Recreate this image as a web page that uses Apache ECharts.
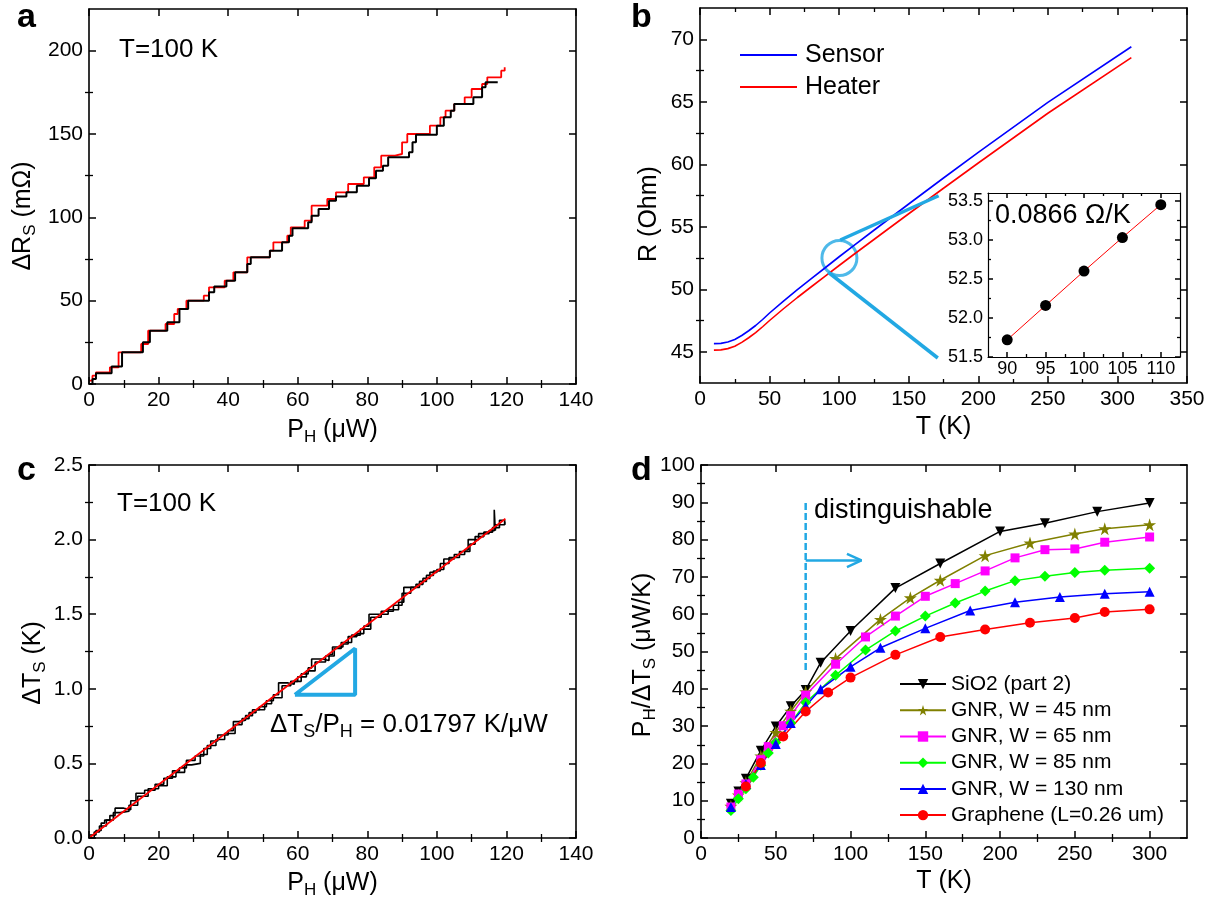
<!DOCTYPE html>
<html><head><meta charset="utf-8">
<script src="https://cdn.jsdelivr.net/npm/echarts@6/dist/echarts.min.js"></script>
<style>html,body{margin:0;padding:0;background:#fff}#c{width:1216px;height:905px}</style>
</head><body><div id="c"></div>
<script>
const FONT = '"Liberation Sans", Arial, Helvetica, sans-serif';
const CYAN = '#22a8e3';

// ---------- panel a : dR_S vs P_H (T=100 K) ----------
const aXTicks = [0, 20, 40, 60, 80, 100, 120, 140];
const aXMinor = [10, 30, 50, 70, 90, 110, 130];
const aYTicks = [0, 50, 100, 150, 200];
const aYMinor = [25, 75, 125, 175];
const aBlackP = [0, 1, 2, 6.5, 9.5, 15.5, 17.5, 22.5, 26, 28.5, 34.5, 36, 39.5, 42, 45.5, 46.5, 52, 55.5, 57.5, 58.5, 63, 64, 66, 69, 71, 74, 77, 80.5, 82.5, 84.5, 86, 92, 93, 94, 100, 102, 104, 105, 110.5, 113, 114, 117.5];
const aBlackR = [0, 3, 6.5, 10.5, 19, 25, 32, 37, 45, 50, 55, 58.5, 62, 67, 72, 76, 80, 85, 89, 93.5, 97, 101, 105, 110, 112.5, 115, 119, 123.5, 128, 131, 136, 139, 145, 149.5, 155, 160, 164, 168, 172, 178, 181, 181];
const aRedP = [0, 1, 2, 6, 8.5, 15, 17, 22, 24.5, 25.5, 28, 33, 34.5, 39, 41.5, 45.5, 52, 53, 57, 58, 62, 64, 68.5, 71, 74.5, 79, 82, 84, 88, 90, 91.5, 98, 101, 102.5, 105, 108, 110, 113, 114.5, 118.5, 119.5];
const aRedR = [2, 5, 7, 10, 19, 24, 32, 36, 42, 45, 50, 53, 58, 62, 67, 76, 80, 85, 89, 94, 98, 107, 111, 115, 120, 124, 130, 137, 138, 145, 150, 155, 160, 164, 168, 172, 177, 180, 184, 188, 190];

// ---------- panel b : R vs T ----------
const bXTicks = [0, 50, 100, 150, 200, 250, 300, 350];
const bXMinor = [25, 75, 125, 175, 225, 275, 325];
const bYTicks = [45, 50, 55, 60, 65, 70];
const bYMinor = [47.5, 52.5, 57.5, 62.5, 67.5];
const bT = [10, 15, 20, 25, 30, 35, 40, 45, 50, 60, 70, 80, 90, 100, 110, 125, 150, 175, 200, 250, 310];
const bSensor = [45.65, 45.67, 45.78, 45.98, 46.3, 46.68, 47.1, 47.58, 48.1, 49.05, 49.97, 50.85, 51.72, 52.6, 53.45, 54.72, 56.82, 58.9, 60.95, 64.95, 69.4];
const bHeater = [45.13, 45.15, 45.25, 45.44, 45.75, 46.12, 46.53, 47.0, 47.5, 48.44, 49.34, 50.2, 51.05, 51.9, 52.74, 53.98, 56.04, 58.08, 60.1, 64.08, 68.53];
const bCircleT = [100.2], bCircleR = [52.5];
const bLink1T = [100.8, 171.5], bLink1R = [53.94, 57.48];
const bLink2T = [92.2, 170.9], bLink2R = [51.36, 44.5];
// inset
const insXTicks = [90, 95, 100, 105, 110];
const insXMinor = [92.5, 97.5, 102.5, 107.5];
const insYTicks = [51.5, 52.0, 52.5, 53.0, 53.5];
const insYMinor = [51.75, 52.25, 52.75, 53.25];
const insT = [90, 95, 100, 105, 110];
const insR = [51.72, 52.16, 52.6, 53.03, 53.45];

// ---------- panel c : dT_S vs P_H ----------
const cXTicks = [0, 20, 40, 60, 80, 100, 120, 140];
const cXMinor = [10, 30, 50, 70, 90, 110, 130];
const cYTicks = [0, 0.5, 1.0, 1.5, 2.0, 2.5];
const cYMinor = [0.25, 0.75, 1.25, 1.75, 2.25];
const cP1 = [0, 2, 3.5, 4.5, 6, 7.5, 10, 12, 13.5, 16, 19, 21.5, 24, 26, 28, 30.5, 33, 35, 37, 40, 41.5, 43, 45, 47, 49, 51, 53, 54.5, 57, 59, 61, 63, 64, 67, 69, 70, 73, 74.5, 77, 79, 80.5, 83, 86, 89, 90.5, 94, 96, 98, 100, 102, 105, 108, 109, 112, 115, 116.5, 116.8, 117, 119.5];
const cT1 = [0.02, 0.05, 0.1, 0.12, 0.15, 0.2, 0.19, 0.25, 0.3, 0.32, 0.36, 0.4, 0.45, 0.47, 0.52, 0.55, 0.6, 0.65, 0.69, 0.72, 0.78, 0.79, 0.82, 0.86, 0.88, 0.92, 0.96, 1.04, 1.03, 1.05, 1.1, 1.14, 1.2, 1.19, 1.23, 1.28, 1.3, 1.35, 1.37, 1.42, 1.5, 1.5, 1.53, 1.58, 1.68, 1.7, 1.74, 1.78, 1.8, 1.87, 1.9, 1.93, 2.0, 2.04, 2.06, 2.2, 2.06, 2.1, 2.12];
const cP2 = [0, 1.5, 3, 5, 7, 9, 11.5, 14, 17, 20, 22.5, 25, 27.5, 29.5, 32, 34, 36.5, 39, 42, 44, 46, 48, 50.5, 52.5, 55.5, 58, 60, 62.5, 65, 68, 70.5, 72.5, 75.5, 78, 81, 84, 87.5, 90, 92.5, 95, 97, 99, 101, 103.5, 106.5, 109.5, 111, 113.5, 116, 118, 119.5];
const cT2 = [0.0, 0.04, 0.08, 0.12, 0.17, 0.18, 0.22, 0.28, 0.33, 0.35, 0.41, 0.44, 0.49, 0.5, 0.56, 0.62, 0.66, 0.7, 0.76, 0.8, 0.84, 0.86, 0.9, 0.94, 1.02, 1.05, 1.08, 1.12, 1.18, 1.22, 1.27, 1.31, 1.36, 1.4, 1.48, 1.52, 1.56, 1.64, 1.68, 1.72, 1.76, 1.79, 1.84, 1.88, 1.92, 1.97, 2.02, 2.05, 2.08, 2.13, 2.1];
const cFitP = [0, 119.7];
const cFitT = [0, 2.14];
const cTriP = [59.2, 76.5, 76.5, 59.2];
const cTriT = [0.96, 1.27, 0.96, 0.96];

// ---------- panel d : P_H/dT_S vs T ----------
const dXTicks = [0, 50, 100, 150, 200, 250, 300];
const dXMinor = [25, 75, 125, 175, 225, 275];
const dYTicks = [0, 10, 20, 30, 40, 50, 60, 70, 80, 90, 100];
const dYMinor = [5, 15, 25, 35, 45, 55, 65, 75, 85, 95];
const dNames = ['SiO2 (part 2)', 'GNR, W = 45 nm', 'GNR, W = 65 nm', 'GNR, W = 85 nm', 'GNR, W = 130 nm', 'Graphene (L=0.26 um)'];
const dT_SiO2 = [20, 25, 30, 40, 50, 60, 70, 80, 100, 130, 160, 200, 230, 265, 300];
const dV_SiO2 = [9.2, 12.5, 15.9, 23.4, 29.9, 35.3, 39.7, 47.0, 55.5, 67.0, 73.6, 82.2, 84.4, 87.5, 89.8];
const dT_G45 = [20, 25, 30, 40, 50, 60, 70, 90, 120, 140, 160, 190, 220, 250, 270, 300];
const dV_G45 = [8.5, 11.5, 14.8, 22.0, 28.3, 34.0, 39.2, 48.1, 58.6, 64.4, 69.1, 75.7, 79.1, 81.5, 82.9, 84.0];
const dT_G65 = [20, 25, 30, 40, 45, 55, 60, 70, 90, 110, 130, 150, 170, 190, 210, 230, 250, 270, 300];
const dV_G65 = [8.3, 11.8, 14.5, 21.0, 24.5, 30.1, 32.8, 38.3, 46.6, 53.9, 59.5, 64.8, 68.2, 71.6, 75.1, 77.3, 77.5, 79.3, 80.7];
const dT_G85 = [20, 25, 30, 35, 40, 45, 50, 60, 70, 90, 110, 130, 150, 170, 190, 210, 230, 250, 270, 300];
const dV_G85 = [7.4, 10.5, 13.2, 16.3, 19.5, 22.8, 25.6, 30.8, 36.3, 43.6, 50.4, 55.5, 59.5, 63.0, 66.2, 69.0, 70.2, 71.2, 71.8, 72.3];
const dT_G130 = [20, 30, 40, 50, 60, 70, 80, 100, 120, 150, 180, 210, 240, 270, 300];
const dV_G130 = [8.3, 14.5, 19.6, 25.2, 30.8, 35.4, 39.9, 45.9, 51.0, 56.2, 61.0, 63.2, 64.6, 65.5, 66.0];
const dT_Gra = [30, 40, 55, 70, 85, 100, 130, 160, 190, 220, 250, 270, 300];
const dV_Gra = [13.8, 20.1, 27.2, 33.9, 39.0, 43.0, 49.1, 53.9, 55.9, 57.7, 59.0, 60.6, 61.3];
const dDashT = [70, 70], dDashV = [89.8, 44.8];
const dArrowT = [70, 107.3], dArrowV = [74.4, 74.4];
const dHeadT = [97.6, 107.3, 97.6], dHeadV = [76.2, 74.4, 72.6];

// ---------- helpers ----------
function zip(xs, ys) { const o = []; for (let i = 0; i < Math.min(xs.length, ys.length); i++) o.push([xs[i], ys[i]]); return o; }
const RICH = {
  n: {fontSize: 25, fontFamily: FONT, color: '#000', lineHeight: 32, verticalAlign: 'middle'},
  s: {fontSize: 17, fontFamily: FONT, color: '#000', lineHeight: 17, verticalAlign: 'bottom'}
};
const xAxes = [], yAxes = [];
function addAxes(list, dim, grid, min, max, major, minor, o) {
  o = o || {};
  const sides = dim === 'x' ? ['bottom', 'top'] : ['left', 'right'];
  let mainIndex = -1;
  sides.forEach(function (side, k) {
    const ax = {
      type: 'value', gridIndex: grid, position: side, min: min, max: max,
      splitLine: {show: false}, minorTick: {show: false},
      axisLine: {show: true, onZero: false, lineStyle: {color: '#000', width: o.lw || 1.6}},
      axisTick: {show: true, inside: true, length: o.tl || 7, customValues: major, lineStyle: {color: '#000', width: 1.5}},
      axisLabel: {show: false}, z: 5
    };
    if (k === 0) {
      const lab = {show: true, customValues: major, color: '#000', fontSize: o.fs || 21, fontFamily: FONT, margin: o.lm || 6};
      if (o.fmt) lab.formatter = o.fmt;
      ax.axisLabel = lab;
      if (o.name) {
        ax.name = o.name; ax.nameLocation = 'middle'; ax.nameGap = o.gap;
        ax.nameRotate = dim === 'y' ? 90 : 0; ax.nameMoveOverlap = false;
        ax.nameTextStyle = {color: '#000', fontSize: 25, fontFamily: FONT, padding: o.pad || 0, rich: RICH};
      }
      mainIndex = list.length;
    }
    list.push(ax);
    if (minor && minor.length) {
      list.push({type: 'value', gridIndex: grid, position: side, min: min, max: max, splitLine: {show: false},
        axisLine: {show: false}, axisTick: {show: true, inside: true, length: o.ml || 4, customValues: minor, lineStyle: {color: '#000', width: 1.3}},
        axisLabel: {show: false}, z: 5});
    }
  });
  return mainIndex;
}
const f1 = function (v) { return v.toFixed(1); };

const grids = [
  {left: 89, top: 9, width: 487, height: 375},
  {left: 700, top: 8, width: 487, height: 375},
  {left: 988, top: 193, width: 192, height: 164},
  {left: 89, top: 465, width: 487, height: 373},
  {left: 701, top: 465, width: 486, height: 373}
].map(g => Object.assign({containLabel: false, outerBoundsMode: 'none'}, g));

const ax_a = addAxes(xAxes, 'x', 0, 0, 140, aXTicks, aXMinor, {name: '{n|P}{s|H}{n| (μW)}', gap: 30});
const ay_a = addAxes(yAxes, 'y', 0, 0, 225, aYTicks, aYMinor, {name: '{n|ΔR}{s|S}{n| (mΩ)}', gap: 50, pad: [0, 39, 0, 0]});
const ax_b = addAxes(xAxes, 'x', 1, 0, 350, bXTicks, bXMinor, {name: 'T (K)', gap: 32});
const ay_b = addAxes(yAxes, 'y', 1, 42.5, 72.5, bYTicks, bYMinor, {name: 'R (Ohm)', gap: 38, pad: [0, 37, 0, 0]});
const ax_i = addAxes(xAxes, 'x', 2, 87.5, 112.5, insXTicks, insXMinor, {fs: 18, tl: 5, ml: 3, lw: 1.2, lm: 3});
const ay_i = addAxes(yAxes, 'y', 2, 51.5, 53.6, insYTicks, insYMinor, {fs: 18, tl: 5, ml: 3, lw: 1.2, lm: 5, fmt: f1});
const ax_c = addAxes(xAxes, 'x', 3, 0, 140, cXTicks, cXMinor, {name: '{n|P}{s|H}{n| (μW)}', gap: 29});
const ay_c = addAxes(yAxes, 'y', 3, 0, 2.5, cYTicks, cYMinor, {name: '{n|ΔT}{s|S}{n| (K)}', gap: 40, pad: [0, 23, 0, 0], fmt: f1});
const ax_d = addAxes(xAxes, 'x', 4, 0, 325, dXTicks, dXMinor, {name: 'T (K)', gap: 31});
const ay_d = addAxes(yAxes, 'y', 4, 0, 100, dYTicks, dYMinor, {name: '{n|P}{s|H}{n|/ΔT}{s|S}{n| (μW/K)}', gap: 42, pad: [0, 7, 0, 0]});

function ln(xi, yi, data, color, width, extra) {
  return Object.assign({type: 'line', xAxisIndex: xi, yAxisIndex: yi, data: data, symbol: 'none', silent: true,
    lineStyle: {color: color, width: width}, itemStyle: {color: color}}, extra || {});
}
const STAR = 'path://M50,0 L61,35 L98,35 L68,57 L79,91 L50,70 L21,91 L32,57 L2,35 L39,35 Z';
const dStyle = [
  {c: '#000000', s: 'triangle', z: 10, r: 180},
  {c: '#808000', s: STAR, z: 13, r: 0},
  {c: '#ff00ff', s: 'rect', z: 9, r: 0},
  {c: '#00ff00', s: 'diamond', z: 11, r: 0},
  {c: '#0000ff', s: 'triangle', z: 10, r: 0},
  {c: '#ff0000', s: 'circle', z: 10, r: 0}
];
const dData = [zip(dT_SiO2, dV_SiO2), zip(dT_G45, dV_G45), zip(dT_G65, dV_G65), zip(dT_G85, dV_G85), zip(dT_G130, dV_G130), zip(dT_Gra, dV_Gra)];

const series = [
  ln(ax_a, ay_a, zip(aRedP, aRedR), '#ff0000', 1.8, {step: 'end'}),
  ln(ax_a, ay_a, zip(aBlackP, aBlackR), '#000000', 2, {step: 'end'}),
  ln(ax_b, ay_b, zip(bT, bSensor), '#0000ff', 1.6, {name: 'Sensor'}),
  ln(ax_b, ay_b, zip(bT, bHeater), '#ff0000', 1.6, {name: 'Heater'}),
  {type: 'scatter', xAxisIndex: ax_b, yAxisIndex: ay_b, data: zip(bCircleT, bCircleR), symbolSize: 35, silent: true,
    itemStyle: {color: 'rgba(0,0,0,0)', borderColor: CYAN, borderWidth: 3}},
  ln(ax_b, ay_b, zip(bLink1T, bLink1R), CYAN, 3.5),
  ln(ax_b, ay_b, zip(bLink2T, bLink2R), CYAN, 3.5),
  ln(ax_i, ay_i, zip(insT, insR), '#ff0000', 1, {symbol: 'circle', symbolSize: 11, showSymbol: true, itemStyle: {color: '#000'}}),
  ln(ax_c, ay_c, zip(cP2, cT2), '#000000', 1.6, {step: 'end'}),
  ln(ax_c, ay_c, zip(cP1, cT1), '#000000', 1.6, {step: 'end'}),
  ln(ax_c, ay_c, zip(cFitP, cFitT), '#ff0000', 1.8),
  ln(ax_c, ay_c, zip(cTriP, cTriT), CYAN, 4)
];
dNames.forEach(function (nm, i) {
  const st = dStyle[i];
  series.push(ln(ax_d, ay_d, dData[i], st.c, 1.5, {name: nm, symbol: st.s, symbolSize: st.z, symbolRotate: st.r, showSymbol: true}));
});
series.push(ln(ax_d, ay_d, zip(dDashT, dDashV), CYAN, 2.5, {lineStyle: {color: CYAN, width: 2.5, type: [7, 3]}}));
series.push(ln(ax_d, ay_d, zip(dArrowT, dArrowV), CYAN, 2.5));
series.push(ln(ax_d, ay_d, zip(dHeadT, dHeadV), CYAN, 2.5));

function txt(x, y, text, size, bold, rich) {
  const st = {text: text, fontSize: size, fontFamily: FONT, fontWeight: bold ? 'bold' : 'normal', fill: '#000',
    align: 'left', verticalAlign: 'middle'};
  if (rich) st.rich = rich;
  return {type: 'text', x: x, y: y, z: 20, style: st};
}
const SLOPE_RICH = {
  n: {fontSize: 26, fontFamily: FONT, fill: '#000', color: '#000', lineHeight: 32, verticalAlign: 'middle'},
  s: {fontSize: 18, fontFamily: FONT, fill: '#000', color: '#000', lineHeight: 18, verticalAlign: 'bottom'}
};

const option = {
  animation: false,
  backgroundColor: '#ffffff',
  textStyle: {fontFamily: FONT, color: '#000'},
  grid: grids,
  xAxis: xAxes,
  yAxis: yAxes,
  legend: [
    {orient: 'vertical', left: 740, top: 40, padding: 0, itemWidth: 57, itemHeight: 2, itemGap: 2, selectedMode: false,
      data: [{name: 'Sensor', icon: 'rect'}, {name: 'Heater', icon: 'rect'}],
      textStyle: {fontSize: 25, color: '#000', fontFamily: FONT, lineHeight: 30, padding: [0, 0, 0, 3]}},
    {orient: 'vertical', left: 899, top: 671, padding: 0, itemWidth: 46, itemHeight: 13, itemGap: 0, selectedMode: false,
      data: dNames, textStyle: {fontSize: 21, color: '#000', fontFamily: FONT, lineHeight: 26.2}}
  ],
  series: series,
  graphic: [
    txt(17, 18, 'a', 34, true),
    txt(631, 18, 'b', 34, true),
    txt(17, 471, 'c', 34, true),
    txt(631, 471, 'd', 34, true),
    txt(119, 50, 'T=100 K', 26),
    txt(117, 504, 'T=100 K', 26),
    txt(270, 725, '{n|ΔT}{s|S}{n|/P}{s|H}{n| = 0.01797 K/μW}', 26, false, SLOPE_RICH),
    txt(995, 215.5, '0.0866 Ω/K', 27),
    txt(814, 510.5, 'distinguishable', 27)
  ]
};
const chart = echarts.init(document.getElementById('c'), null, {renderer: 'canvas'});
chart.setOption(option);
</script></body></html>
